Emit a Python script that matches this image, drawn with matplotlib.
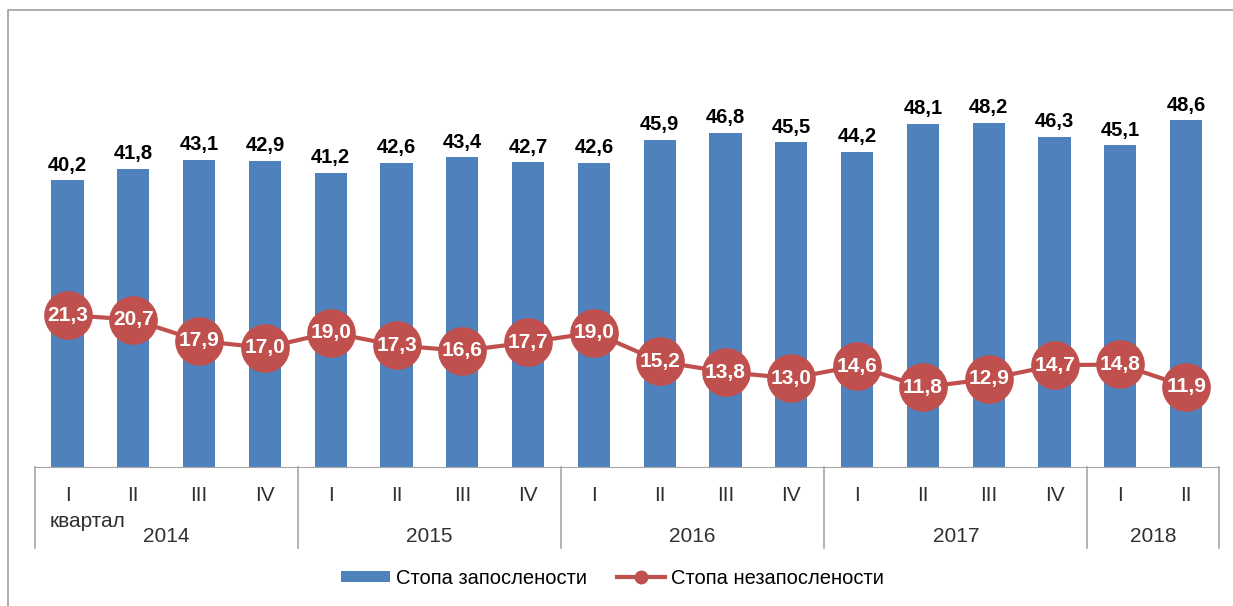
import matplotlib.pyplot as plt
import matplotlib.transforms as mtransforms
from matplotlib.patches import Patch
from matplotlib.lines import Line2D

# podaci
kvartali = ['I', 'II', 'III', 'IV'] * 4 + ['I', 'II']
godine = ['2014', '2015', '2016', '2017', '2018']
broj_kv = [4, 4, 4, 4, 2]
zaposlenost = [40.2, 41.8, 43.1, 42.9, 41.2, 42.6, 43.4, 42.7, 42.6,
               45.9, 46.8, 45.5, 44.2, 48.1, 48.2, 46.3, 45.1, 48.6]
nezaposlenost = [21.3, 20.7, 17.9, 17.0, 19.0, 17.3, 16.6, 17.7, 19.0,
                 15.2, 13.8, 13.0, 14.6, 11.8, 12.9, 14.7, 14.8, 11.9]

plava = '#4F81BD'
crvena = '#C0504D'
siva = '#A6A6A6'
tekst = '#303030'
plt.rcParams['font.family'] = ['Liberation Sans', 'DejaVu Sans']

fig = plt.figure(figsize=(12.33, 6.06), dpi=100)
ax = fig.add_axes([0.0281, 0.2294, 0.9606, 0.7062])
x = list(range(len(zaposlenost)))

ax.bar(x, zaposlenost, width=0.49, color=plava, zorder=2)
for xi, v in zip(x, zaposlenost):
    ax.text(xi, v + 0.8, f'{v:.1f}'.replace('.', ','), ha='center', va='bottom',
            fontsize=14.5, fontweight='bold', color='black')
ax.set_ylim(0, 60)
ax.set_xlim(-0.5, len(x) - 0.5)

# sekundarna osa za liniju
ax2 = ax.twinx()
ax2.plot(x, nezaposlenost, color=crvena, lw=3, marker='o', ms=34, zorder=3)
for xi, v in zip(x, nezaposlenost):
    ax2.text(xi, v, f'{v:.1f}'.replace('.', ','), ha='center', va='center',
             fontsize=15, fontweight='bold', color='white', zorder=4)
ax2.set_ylim(1.32, 57.6)

for a in (ax, ax2):
    a.set_yticks([])
    for s in a.spines.values():
        s.set_visible(False)
ax.spines['bottom'].set_visible(True)
ax.spines['bottom'].set_color(siva)
ax.set_xticks([])

# dvostepena osa
tr = mtransforms.blended_transform_factory(ax.transData, ax.transAxes)
for xi, k in zip(x, kvartali):
    ax.text(xi, -0.066, k, transform=tr, ha='center', va='center',
            fontsize=15, color=tekst)
ax.text(-0.27, -0.128, 'квартал', transform=tr, ha='left', va='center',
        fontsize=15, color=tekst)
pocetak = -0.5
granice = [pocetak]
for g, n in zip(godine, broj_kv):
    ax.text(pocetak + n / 2, -0.162, g, transform=tr, ha='center', va='center',
            fontsize=15, color=tekst)
    pocetak += n
    granice.append(pocetak)
for b in granice:
    ax.plot([b, b], [0, -0.189], transform=tr, color=siva, lw=1.2, clip_on=False)

# legenda
h1 = Patch(facecolor=plava, edgecolor='none')
h2 = Line2D([], [], color=crvena, lw=3, marker='o', ms=9)
fig.legend([h1, h2], ['Стопа запослености', 'Стопа незапослености'],
           loc='center', bbox_to_anchor=(0.497, 0.046), ncol=2, frameon=False,
           fontsize=14.5, handlelength=2.4, handleheight=0.45,
           handletextpad=0.3, columnspacing=1.5)

# okvir (gore i levo)
fig.add_artist(Line2D([8 / 1233, 8 / 1233, 1.0], [0.0, 1 - 10 / 606, 1 - 10 / 606],
                      transform=fig.transFigure, color='#A0A0A0', lw=1.2))

fig.savefig('out.png', dpi=100)
